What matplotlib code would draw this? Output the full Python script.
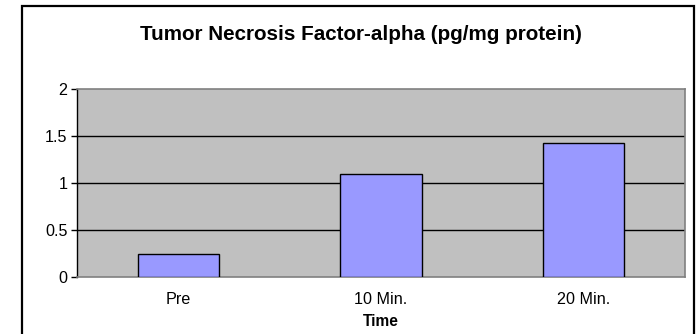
import matplotlib
matplotlib.use("Agg")
import matplotlib.pyplot as plt
from matplotlib.patches import Rectangle

categories = ["Pre", "10 Min.", "20 Min."]
values = [0.25, 1.10, 1.43]
y_ticks = [0, 0.5, 1, 1.5, 2]
y_tick_labels = ["0", "0.5", "1", "1.5", "2"]

title = "Tumor Necrosis Factor-alpha (pg/mg protein)"
x_label = "Time"

plt.rcParams["font.family"] = ["Liberation Sans", "DejaVu Sans"]

W, H = 698, 334
fig = plt.figure(figsize=(W / 100, H / 100), dpi=100)

# chart frame (bottom edge runs past the canvas)
fig.patches.append(Rectangle((22 / W, -0.05), (694 - 22) / W, 1 - 6 / H + 0.05,
                             transform=fig.transFigure, fill=False,
                             edgecolor="black", linewidth=1.6, clip_on=False))

ax = fig.add_axes([77 / W, 1 - 277 / H, (685 - 77) / W, (277 - 89) / H])
ax.set_facecolor("#C0C0C0")

x = range(len(categories))
ax.bar(x, values, width=0.4, color="#9999FF", edgecolor="black", linewidth=1.0, zorder=3)

ax.set_xlim(-0.5, len(categories) - 0.5)
ax.set_ylim(0, 2)
ax.set_yticks(y_ticks)
ax.set_yticklabels(y_tick_labels, fontsize=11.6)
ax.set_xticks(list(x))
ax.set_xticklabels(categories, fontsize=11.6)
ax.tick_params(axis="x", length=0, pad=11)
ax.tick_params(axis="y", length=4.5, width=1.0, color="black", pad=2.5, direction="out")

for v in y_ticks[1:-1]:
    ax.axhline(v, color="black", linewidth=1.0, zorder=1)

for side in ("top", "right", "bottom"):
    ax.spines[side].set_color("#808080")
    ax.spines[side].set_linewidth(1.2)
ax.spines["left"].set_color("black")
ax.spines["left"].set_linewidth(1.0)

fig.text(361 / W, 1 - 34 / H, title, ha="center", va="center",
         fontsize=14.9, fontweight="bold")
fig.text(381 / W, 1 - 321 / H, x_label, ha="center", va="center",
         fontsize=11.2, fontweight="bold")

fig.savefig("out.png", dpi=100)
